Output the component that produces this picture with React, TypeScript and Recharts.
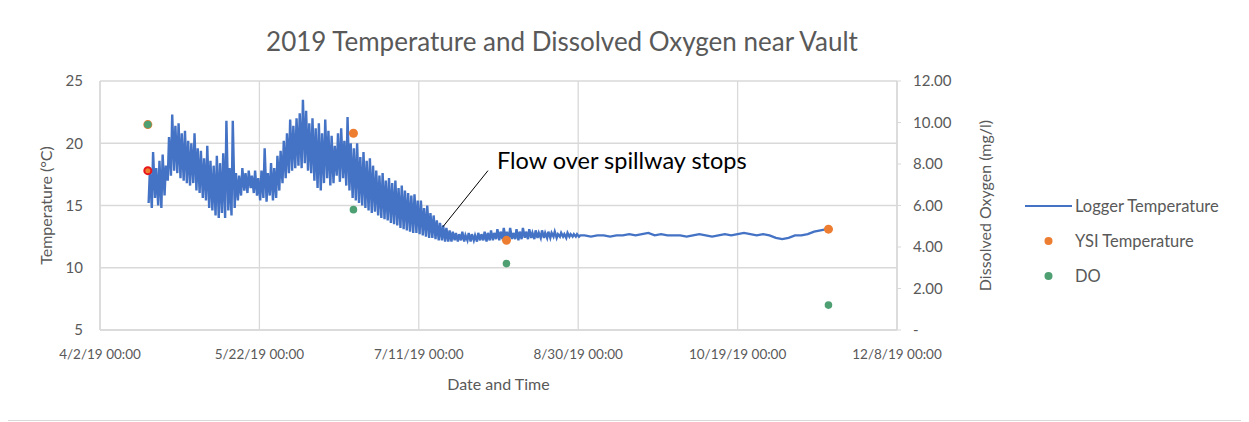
import React from "react";
import {
  ComposedChart,
  Line,
  Scatter,
  XAxis,
  YAxis,
  CartesianGrid,
  ReferenceLine,
  Label,
} from "recharts";

// days counted from 4/2/19 00:00
const loggerStartDay = 15;
const loggerLow = [
  15.2, 14.8, 15.6, 15.0, 14.8, 15.8,
  17.0, 17.4, 17.8, 17.6, 17.2, 17.0, 16.8, 16.6, 16.8, 16.2,
  16.0, 15.6, 15.4, 14.8, 14.6, 14.2, 14.0, 14.4, 14.0, 14.6,
  14.2, 14.8, 15.4, 15.8, 16.2, 16.0, 16.4, 16.0, 15.8, 15.4,
  15.6, 15.3, 15.8, 15.4, 15.6, 16.2, 16.8, 17.2, 17.6, 17.8,
  18.0, 18.2, 18.0, 18.4, 17.8, 17.6, 17.0, 16.4, 16.2, 16.8,
  17.2, 16.6, 16.8, 17.4, 16.9, 17.2, 16.6, 16.2, 15.6, 15.4,
  15.2, 15.0, 14.8, 14.6, 14.4, 14.5, 14.2, 14.0, 13.9, 13.8,
  13.6, 13.5, 13.4, 13.2, 13.1, 13.0, 12.9, 12.8, 12.8, 12.7,
  12.6, 12.5, 12.4, 12.4, 12.3, 12.2, 12.2, 12.1, 12.1, 12.1,
  12.2, 12.1, 12.2, 12.1, 12.2, 12.1, 12.2, 12.1, 12.2, 12.2,
  12.1, 12.2, 12.2, 12.3, 12.2, 12.3, 12.3, 12.2, 12.3, 12.3,
  12.2, 12.3, 12.4, 12.3, 12.4, 12.3, 12.4, 12.4, 12.4, 12.4,
  12.4, 12.5, 12.4, 12.5, 12.5, 12.4, 12.5, 12.5, 12.5, 12.5,
];
const loggerHigh = [
  17.8, 19.3, 18.0, 18.6, 19.1, 18.2,
  20.5, 22.3, 21.4, 21.6, 20.8, 21.0, 20.2, 20.0, 20.8, 19.6,
  19.4, 18.8, 19.8, 18.6, 18.2, 19.0, 18.4, 19.2, 21.8, 18.0,
  21.8, 17.6, 17.4, 18.0, 17.6, 17.8, 17.4, 17.8, 17.2, 17.8,
  19.6, 17.6, 18.4, 18.0, 19.0, 19.4, 20.2, 20.8, 21.9, 21.4,
  22.0, 22.4, 23.5, 22.6, 21.6, 22.0, 21.2, 21.6, 20.8, 21.9,
  21.0, 20.6, 19.8, 20.8, 21.2, 20.2, 22.1, 20.0, 19.6, 20.0,
  18.9, 19.3, 18.6, 18.8, 18.2, 17.8, 17.4, 17.6, 17.0, 17.2,
  16.8, 17.0, 16.4, 16.6, 16.2, 16.0, 15.8, 15.9, 15.4, 15.4,
  14.8, 15.0, 14.4, 14.2, 13.8, 13.6, 13.4, 13.2, 13.0, 12.9,
  12.8, 12.7, 12.9, 12.6, 12.8, 12.7, 12.6, 12.8, 12.7, 12.9,
  12.8, 13.0, 12.8, 13.1, 12.9, 13.2, 12.9, 13.2, 12.8, 13.1,
  12.9, 13.2, 12.9, 13.1, 12.8, 13.0, 12.8, 13.0, 12.8, 12.9,
  12.8, 12.9, 12.7, 12.8, 12.7, 12.8, 12.7, 12.7, 12.7, 12.6,
];
// after the flow stops the logger is read every 2 days
const calmStartDay = 152;
const loggerCalm = [
  12.6, 12.5, 12.6, 12.6, 12.5, 12.6, 12.6, 12.7, 12.6, 12.7,
  12.8, 12.6, 12.7, 12.6, 12.6, 12.6, 12.5, 12.6, 12.7, 12.6,
  12.5, 12.6, 12.7, 12.6, 12.7, 12.8, 12.7, 12.6, 12.7, 12.6,
  12.4, 12.3, 12.4, 12.6, 12.6, 12.7, 12.9, 13.0, 13.1,
];

const sampleDays = [15, 79.5, 127.5, 228.5];
const ysiTemp = [21.5, 20.8, 12.2, 13.1];
const doValues = [9.9, 5.8, 3.2, 1.2];
const fieldDay = [15];
const fieldTemp = [17.8];

const dayTicks = [0, 50, 100, 150, 200, 250];
const tempTicks = [5, 10, 15, 20, 25];
const doTicks = [0, 2, 4, 6, 8, 10, 12];

const loggerData: { day: number; temp: number }[] = [];
loggerLow.forEach((lo, i) => {
  loggerData.push({ day: loggerStartDay + i + 0.25, temp: lo });
  loggerData.push({ day: loggerStartDay + i + 0.65, temp: loggerHigh[i] });
});
loggerCalm.forEach((v, i) => {
  loggerData.push({ day: calmStartDay + i * 2, temp: v });
});
const ysiData = sampleDays.map((d, i) => ({ day: d, temp: ysiTemp[i] }));
const doData = sampleDays.map((d, i) => ({ day: d, oxygen: doValues[i] }));
const fieldData = fieldDay.map((d, i) => ({ day: d, temp: fieldTemp[i] }));

const BLUE = "#4472C4";
const ORANGE = "#ED7D31";
const GREEN = "#4E9F72";
const RED = "#E8161B";
const TEXT = "#595959";
const GRID = "#d9d9d9";
const FONT = "Lato, 'Liberation Sans', sans-serif";

const base = Date.UTC(2019, 3, 2);
const fmtDay = (d: number) => {
  const dt = new Date(base + d * 86400000);
  return `${dt.getUTCMonth() + 1}/${dt.getUTCDate()}/19 00:00`;
};

const dot = (r: number, fill: string, stroke?: string) => (p: any) => (
  <circle cx={p.cx} cy={p.cy} r={r} fill={fill} stroke={stroke || "none"} strokeWidth={stroke ? 2 : 0} />
);

export default function App() {
  return (
    <div
      style={{
        position: "relative",
        width: 1235,
        height: 414,
        margin: "-3px 0 0 -3px",
        border: `1px solid ${GRID}`,
        fontFamily: FONT,
        background: "#fff",
      }}
    >
      <div
        style={{
          position: "absolute",
          left: 0,
          top: 20,
          width: 1112,
          textAlign: "center",
          fontSize: 26,
          lineHeight: "30px",
          color: TEXT,
        }}
      >
        2019 Temperature and Dissolved Oxygen near Vault
      </div>

      <ComposedChart
        width={1230}
        height={410}
        margin={{ top: 75, right: 239, bottom: 26, left: 20 }}
        style={{ position: "absolute", left: 0, top: 0 }}
      >
        <CartesianGrid yAxisId="temp" stroke={GRID} strokeWidth={1.3} />
        <XAxis
          type="number"
          dataKey="day"
          domain={[0, 250]}
          ticks={dayTicks}
          tickFormatter={fmtDay}
          axisLine={{ stroke: GRID, strokeWidth: 1.5 }}
          tickLine={false}
          tickSize={0}
          tickMargin={19}
          height={60}
          tick={{ fill: TEXT, fontSize: 13.5 }}
        >
          <Label value="Date and Time" position="insideBottom" offset={0} fill={TEXT} fontSize={16} />
        </XAxis>
        <YAxis
          yAxisId="temp"
          type="number"
          domain={[5, 25]}
          ticks={tempTicks}
          axisLine={{ stroke: GRID, strokeWidth: 1.5 }}
          tickLine={false}
          tickSize={0}
          tickMargin={17}
          width={74}
          tick={{ fill: TEXT, fontSize: 15 }}
        >
          <Label value="Temperature (°C)" angle={-90} position="insideLeft" offset={20} fill={TEXT} fontSize={16} style={{ textAnchor: "middle" }} />
        </YAxis>
        <YAxis
          yAxisId="do"
          orientation="right"
          type="number"
          domain={[0, 12]}
          ticks={doTicks}
          tickFormatter={(v: number) => (v === 0 ? "-" : v.toFixed(2))}
          axisLine={{ stroke: GRID, strokeWidth: 1.5 }}
          tickLine={{ stroke: GRID }}
          tickSize={4}
          tickMargin={12}
          width={100}
          tick={{ fill: TEXT, fontSize: 15 }}
        >
          <Label value="Dissolved Oxygen (mg/l)" angle={-90} position="insideRight" offset={12} fill={TEXT} fontSize={16} style={{ textAnchor: "middle" }} />
        </YAxis>

        <Line
          yAxisId="temp"
          data={loggerData}
          dataKey="temp"
          name="Logger Temperature"
          stroke={BLUE}
          strokeWidth={2.4}
          dot={false}
          isAnimationActive={false}
        />
        <Scatter yAxisId="temp" data={ysiData} dataKey="temp" name="YSI Temperature" shape={dot(4.5, ORANGE)} isAnimationActive={false} />
        <Scatter yAxisId="temp" data={fieldData} dataKey="temp" legendType="none" shape={dot(3.5, ORANGE, RED)} isAnimationActive={false} />
        <Scatter yAxisId="do" data={doData} dataKey="oxygen" name="DO" shape={dot(3.8, GREEN)} isAnimationActive={false} />

        <ReferenceLine
          yAxisId="temp"
          segment={[
            { x: 121.7, y: 17.8 },
            { x: 107.6, y: 13.3 },
          ]}
          stroke="#000"
          strokeWidth={1}
        />
      </ComposedChart>

      <div
        style={{
          position: "absolute",
          left: 491,
          top: 140,
          fontSize: 23.5,
          lineHeight: "28px",
          color: "#000",
          whiteSpace: "nowrap",
        }}
      >
        Flow over spillway stops
      </div>

      {[
        { label: "Logger Temperature", kind: "line", color: BLUE, y: 206 },
        { label: "YSI Temperature", kind: "dot", color: ORANGE, y: 241 },
        { label: "DO", kind: "dot", color: GREEN, y: 276 },
      ].map((row) => (
        <div
          key={row.label}
          style={{
            position: "absolute",
            left: 1019,
            top: row.y - 6 - 10,
            height: 20,
            display: "flex",
            alignItems: "center",
            fontSize: 16.5,
            color: TEXT,
            whiteSpace: "nowrap",
          }}
        >
          <svg width={50} height={20}>
            {row.kind === "line" ? (
              <line x1={0} x2={47} y1={10} y2={10} stroke={row.color} strokeWidth={2} />
            ) : (
              <circle cx={23.5} cy={10} r={4} fill={row.color} />
            )}
          </svg>
          <span>{row.label}</span>
        </div>
      ))}
    </div>
  );
}
